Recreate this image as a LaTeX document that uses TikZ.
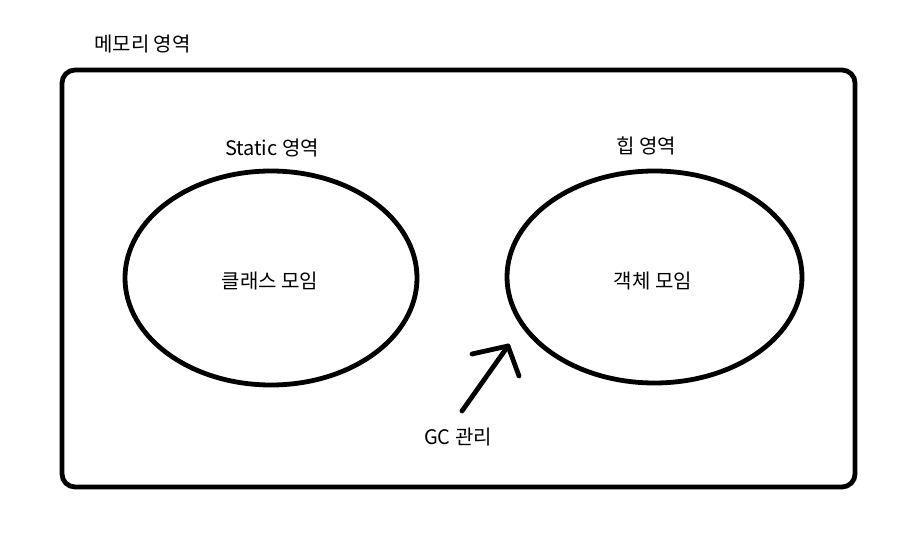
\documentclass[tikz,border=0pt]{standalone}
\usepackage{fontspec}
\usetikzlibrary{shapes.geometric}
\setmainfont{Noto Sans CJK KR}
\begin{document}
\begin{tikzpicture}[x=1pt,y=1pt,
  thick line/.style={line width=4.8pt,draw=black},
  lbl/.style={font=\fontsize{20}{24}\selectfont,inner sep=0pt}]
\useasboundingbox[fill=white] (0,0) rectangle (904,533);
% memory area
\node[thick line,rounded corners=13pt,minimum width=793pt,minimum height=417pt,inner sep=0pt] (mem) at (458.5,254.5) {};
\node[lbl,anchor=west] (memlbl) at (94,489) {메모리 영역};
% static
\node[thick line,ellipse,minimum width=292pt,minimum height=214pt,inner sep=0pt] (static) at (271,255) {};
\node[lbl] (staticin) at (270,252) {클래스 모임};
\node[lbl] (staticlbl) at (272,385) {Static 영역};
% heap
\node[thick line,ellipse,minimum width=295pt,minimum height=212pt,inner sep=0pt] (heap) at (654.5,256) {};
\node[lbl] (heapin) at (653,252) {객체 모임};
\node[lbl] (heaplbl) at (646,387) {힙 영역};
% GC arrow
\coordinate (tail) at (462,122);
\coordinate (tip) at (508,187);
\coordinate (hl) at (472,179);
\coordinate (hr) at (519,157);
\draw[thick line,line cap=round,line join=round] (tail) -- (tip);
\draw[thick line,line cap=round,line join=round] (hl) -- (tip) -- (hr);
\node[lbl] (gc) at (458,96) {GC 관리};
\end{tikzpicture}
\end{document}
